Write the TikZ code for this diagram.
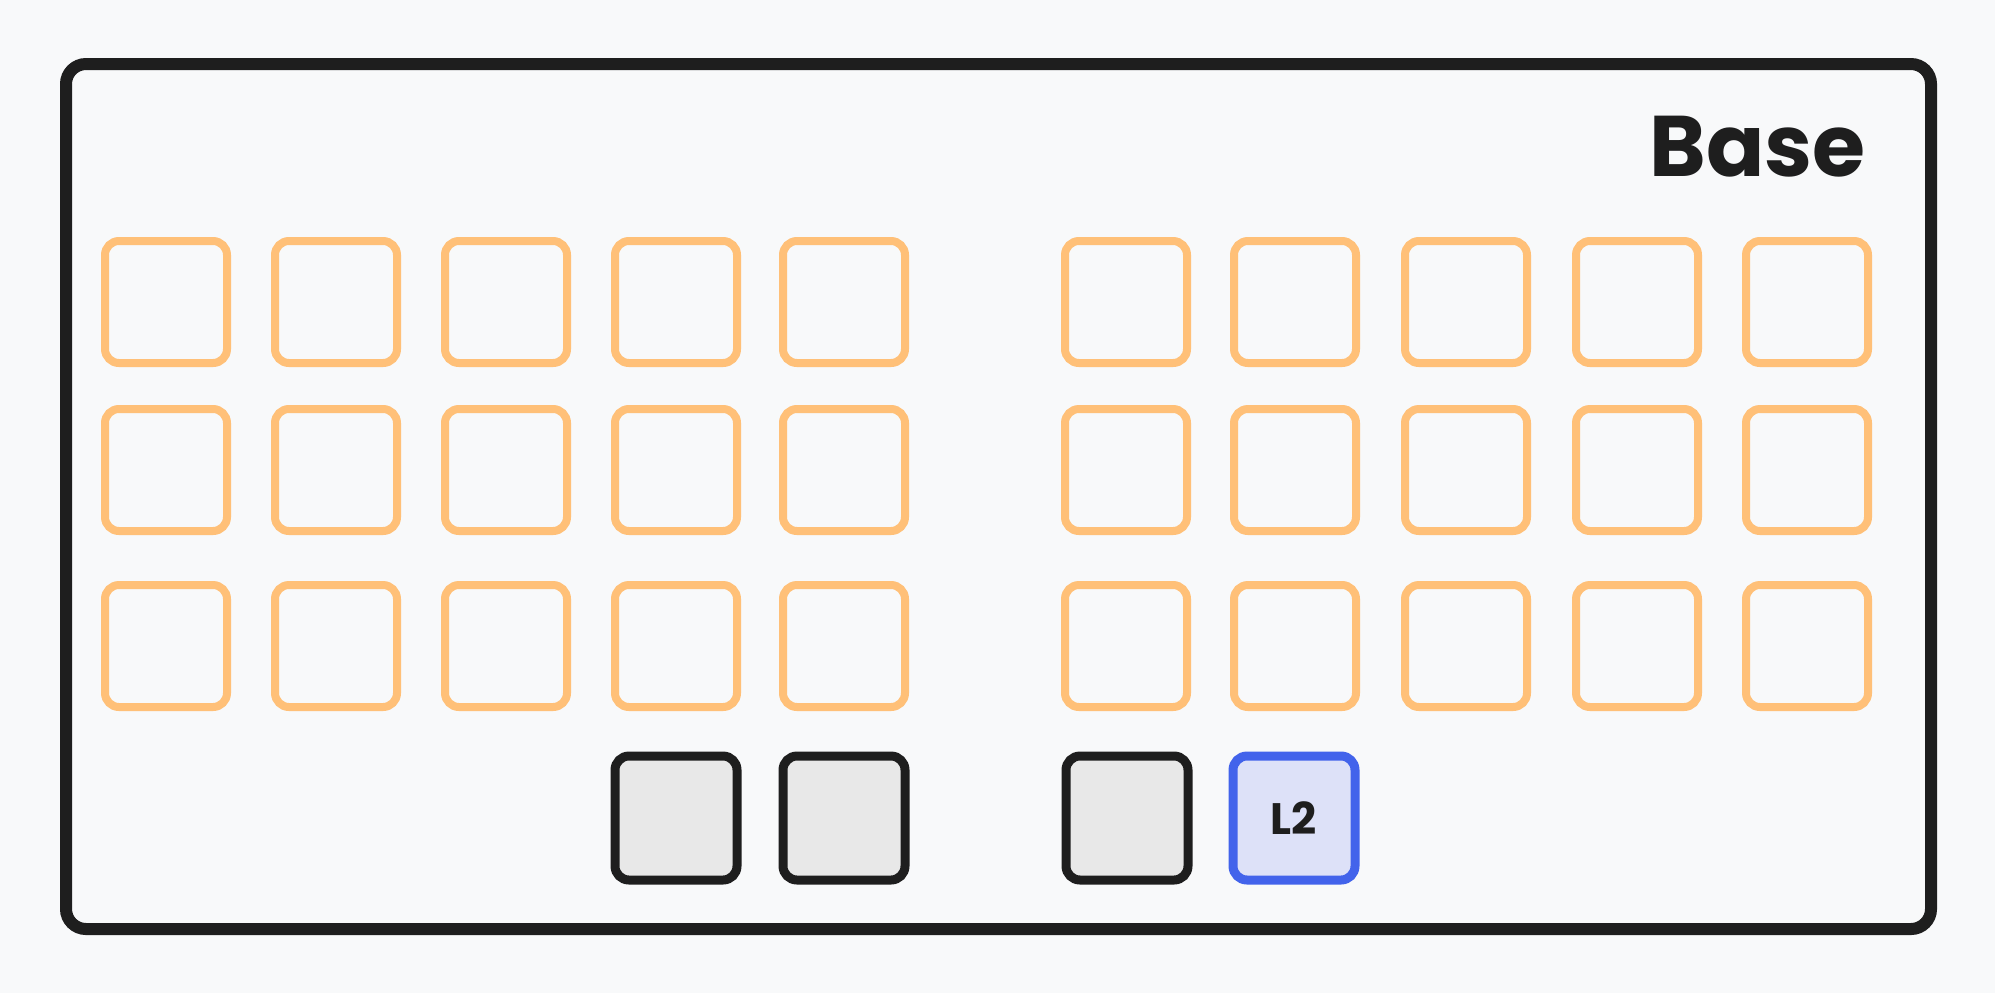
\documentclass[tikz,border=0pt]{standalone}
\usepackage{fontspec}
\setmainfont{Poppins}
\definecolor{bgc}{HTML}{F8F9FA}
\definecolor{orangek}{HTML}{FFC078}
\definecolor{inkc}{HTML}{1E1E1E}
\definecolor{grayk}{HTML}{E8E8E8}
\definecolor{bluek}{HTML}{4263EB}
\definecolor{bluefill}{HTML}{DDE1F8}
\begin{document}
\begin{tikzpicture}[x=0.5pt,y=-0.5pt,
  keybase/.style={anchor=north west, minimum width=61pt, minimum height=61pt, inner sep=0pt, outer sep=0pt, rounded corners=7pt},
  okey/.style={keybase, draw=orangek, line width=4pt},
  tkey/.style={keybase, draw=inkc, fill=grayk, line width=4.5pt},
  bkey/.style={keybase, draw=bluek, fill=bluefill, line width=4.5pt, minimum height=62pt, font=\bfseries\fontsize{22}{24}\selectfont, text=inkc},
  frame/.style={draw=inkc, line width=6pt, rounded corners=10pt},
  title/.style={anchor=base east, inner sep=0pt, font=\bfseries\fontsize{43}{46}\selectfont, text=inkc}]
\fill[bgc] (0,0) rectangle (1995,993);
\useasboundingbox (0,0) rectangle (1995,993);
\node[frame, anchor=north west, minimum width=932.5pt, minimum height=432.5pt, inner sep=0pt, outer sep=0pt] (board) at (66,64) {};
\node[title] (basetitle) at (1866,176) {Base};
\foreach \r/\y in {1/241, 2/409, 3/585} {
  \foreach \c/\x in {1/105, 2/275, 3/445, 4/615, 5/783, 6/1065, 7/1234, 8/1405, 9/1576, 10/1746} {
    \node[okey] (k-\r-\c) at (\x,\y) {};
  }
}
\node[tkey, minimum height=62pt] (t1) at (615,756) {};
\node[tkey, minimum height=62pt] (t2) at (783,756) {};
\node[tkey, minimum height=62pt] (t3) at (1066,756) {};
\node[bkey] (t4) at (1233,756) {L2};
\end{tikzpicture}
\end{document}
